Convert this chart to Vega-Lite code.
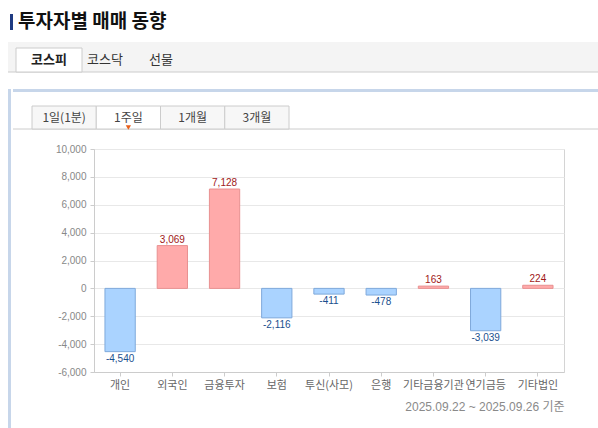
{
  "$schema": "https://vega.github.io/schema/vega-lite/v6.json",
  "padding": {"left": 0, "top": 13, "right": 0, "bottom": 0},
  "background": "white",
  "spacing": 10,
  "config": {
    "view": {"stroke": null},
    "font": "Noto Sans CJK KR",
    "locale": {"number": {"decimal": ".", "thousands": ",", "grouping": [3], "currency": ["", ""], "minus": "-"}}
  },
  "vconcat": [
    {
      "spacing": 0,
      "hconcat": [
        {
          "width": 10, "height": 16,
          "data": {"values": [{}]},
          "mark": {"type": "text"},
          "encoding": {"text": {"value": ""}}
        },
        {
          "width": 3, "height": 16,
          "view": {"fill": "#1f3b82", "stroke": null},
          "data": {"values": [{}]},
          "mark": {"type": "text"},
          "encoding": {"text": {"value": ""}}
        },
        {
          "width": 300, "height": 16,
          "data": {"values": [{"heading": "투자자별 매매 동향"}]},
          "mark": {"type": "text", "align": "left", "baseline": "middle", "fontSize": 19, "fontWeight": "bold", "color": "#111111", "dx": 5},
          "encoding": {
            "x": {"datum": 0, "type": "quantitative", "scale": {"domain": [0, 1]}, "axis": null},
            "y": {"datum": 0.5, "type": "quantitative", "scale": {"domain": [0, 1]}, "axis": null},
            "text": {"field": "heading"}
          }
        }
      ]
    },
    {
      "spacing": 16,
      "vconcat": [
        {
          "spacing": 0,
          "hconcat": [
            {
              "width": 7, "height": 30,
              "data": {"values": [{}]},
              "mark": {"type": "text"},
              "encoding": {"text": {"value": ""}}
            },
            {
              "width": 591,
              "height": 30,
              "view": {"fill": "#f4f4f4", "stroke": null},
              "data": {"values": [
                {"tab": "코스피", "selected": true},
                {"tab": "코스닥", "selected": false},
                {"tab": "선물", "selected": false}
              ]},
              "layer": [
                {
                  "data": {"values": [{}]},
                  "mark": {"type": "rule", "color": "#cccccc"},
                  "encoding": {"y": {"datum": 0, "type": "quantitative", "scale": {"domain": [0, 1]}, "axis": null}}
                },
                {
                  "transform": [{"filter": "datum.selected"}],
                  "mark": {"type": "rect", "fill": "white", "stroke": "#cccccc", "width": 66},
                  "encoding": {
                    "x": {"field": "tab", "type": "nominal", "sort": null, "scale": {"domain": ["코스피", "코스닥", "선물"], "range": [13, 181], "paddingInner": 0, "paddingOuter": 0}, "axis": null},
                    "y": {"datum": 0.8, "type": "quantitative", "scale": {"domain": [0, 1]}, "axis": null},
                    "y2": {"datum": 0}
                  }
                },
                {
                  "transform": [{"filter": "datum.selected"}],
                  "mark": {"type": "text", "fontSize": 13, "fontWeight": "bold", "color": "#222222"},
                  "encoding": {
                    "x": {"field": "tab", "type": "nominal", "sort": null, "axis": null},
                    "y": {"datum": 0.4, "type": "quantitative", "axis": null},
                    "text": {"field": "tab"}
                  }
                },
                {
                  "transform": [{"filter": "!datum.selected"}],
                  "mark": {"type": "text", "fontSize": 13, "color": "#333333"},
                  "encoding": {
                    "x": {"field": "tab", "type": "nominal", "sort": null, "axis": null},
                    "y": {"datum": 0.4, "type": "quantitative", "axis": null},
                    "text": {"field": "tab"}
                  }
                }
              ]
            }
          ]
        },
        {
          "spacing": 0,
          "hconcat": [
            {
              "width": 8,
              "height": 340,
              "data": {"values": [{}]},
              "mark": {"type": "text"},
              "encoding": {"text": {"value": ""}}
            },
            {
              "width": 3,
              "height": 340,
              "view": {"fill": "#c7d6ea", "stroke": null},
              "data": {"values": [{}]},
              "mark": {"type": "text"},
              "encoding": {"text": {"value": ""}}
            },
            {
              "spacing": 0,
              "vconcat": [
                {
                  "width": 587,
                  "height": 54,
                  "data": {"values": [
                    {"tab": "1일(1분)", "selected": false},
                    {"tab": "1주일", "selected": true},
                    {"tab": "1개월", "selected": false},
                    {"tab": "3개월", "selected": false}
                  ]},
                  "layer": [
                    {
                      "data": {"values": [{}]},
                      "mark": {"type": "rule", "color": "#c7d6ea", "strokeWidth": 3},
                      "encoding": {"y": {"datum": 0.972, "type": "quantitative", "scale": {"domain": [0, 1]}, "axis": null}}
                    },
                    {
                      "data": {"values": [{}]},
                      "mark": {"type": "rule", "color": "#cccccc"},
                      "encoding": {"y": {"datum": 0.259, "type": "quantitative", "axis": null}}
                    },
                    {
                      "mark": {"type": "rect", "stroke": "#cccccc"},
                      "encoding": {
                        "x": {"field": "tab", "type": "nominal", "sort": null, "scale": {"domain": ["1일(1분)", "1주일", "1개월", "3개월"], "range": [19, 276], "paddingInner": 0, "paddingOuter": 0}, "axis": null},
                        "y": {"datum": 0.685, "type": "quantitative", "axis": null},
                        "y2": {"datum": 0.259},
                        "fill": {"condition": {"test": "datum.selected", "value": "#ffffff"}, "value": "#f7f7f7"}
                      }
                    },
                    {
                      "mark": {"type": "text", "fontSize": 12, "color": "#444444"},
                      "encoding": {
                        "x": {"field": "tab", "type": "nominal", "sort": null, "axis": null},
                        "y": {"datum": 0.472, "type": "quantitative", "axis": null},
                        "text": {"field": "tab"}
                      }
                    },
                    {
                      "transform": [{"filter": "datum.selected"}],
                      "mark": {"type": "point", "shape": "triangle-down", "filled": true, "color": "#e8601c", "size": 28, "opacity": 1},
                      "encoding": {
                        "x": {"field": "tab", "type": "nominal", "sort": null, "axis": null},
                        "y": {"datum": 0.287, "type": "quantitative", "axis": null}
                      }
                    }
                  ]
                },
                {
                  "spacing": 0,
                  "hconcat": [
                    {
                      "width": 1,
                      "height": 1,
                      "data": {"values": [{}]},
                      "mark": {"type": "text"},
                      "encoding": {"text": {"value": ""}}
                    },
                    {
                      "width": 470,
                      "height": 223,
                      "view": {"stroke": "#d4d4d4"},
                      "data": {"values": [
                        {"investor": "개인", "value": -4540},
                        {"investor": "외국인", "value": 3069},
                        {"investor": "금융투자", "value": 7128},
                        {"investor": "보험", "value": -2116},
                        {"investor": "투신(사모)", "value": -411},
                        {"investor": "은행", "value": -478},
                        {"investor": "기타금융기관", "value": 163},
                        {"investor": "연기금등", "value": -3039},
                        {"investor": "기타법인", "value": 224}
                      ]},
                      "encoding": {
                        "x": {
                          "field": "investor", "type": "nominal", "sort": null,
                          "scale": {"paddingInner": 0.42, "paddingOuter": 0.21},
                          "axis": {
                            "title": "2025.09.22 ~ 2025.09.26 기준",
                            "titleAnchor": "end", "titleColor": "#8a8a8a", "titleFontSize": 12, "titleFontWeight": "normal",
                            "titleFont": "Liberation Sans, Noto Sans CJK KR", "titlePadding": 11,
                            "labelAngle": 0, "labelFontSize": 11, "labelColor": "#666666", "labelPadding": 3,
                            "tickSize": 4, "tickColor": "#cccccc", "domainColor": "#cccccc", "grid": false
                          }
                        }
                      },
                      "layer": [
                        {
                          "mark": {"type": "bar", "strokeWidth": 1},
                          "encoding": {
                            "y": {
                              "field": "value", "type": "quantitative",
                              "scale": {"domain": [-6000, 10000], "nice": false},
                              "axis": {
                                "title": null, "values": [-6000, -4000, -2000, 0, 2000, 4000, 6000, 8000, 10000], "tickCount": 20, "format": ",d",
                                "labelFont": "Liberation Sans", "labelFontSize": 10, "labelColor": "#888888", "labelPadding": 4,
                                "labelOverlap": false,
                                "tickSize": 4, "tickColor": "#cccccc", "domainColor": "#cccccc", "gridColor": "#e8e8e8",
                                "minExtent": 79
                              }
                            },
                            "fill": {"condition": {"test": "datum.value < 0", "value": "#aad3ff"}, "value": "#ffaaaa"},
                            "stroke": {"condition": {"test": "datum.value < 0", "value": "#7fa9db"}, "value": "#e89090"}
                          }
                        },
                        {
                          "transform": [{"filter": "datum.value >= 0"}],
                          "mark": {"type": "text", "baseline": "bottom", "dy": -1, "font": "Liberation Sans", "fontSize": 10, "color": "#a01818"},
                          "encoding": {
                            "y": {"field": "value", "type": "quantitative"},
                            "text": {"field": "value", "type": "quantitative", "format": ",d"}
                          }
                        },
                        {
                          "transform": [{"filter": "datum.value < 0"}],
                          "mark": {"type": "text", "baseline": "top", "dy": 2, "font": "Liberation Sans", "fontSize": 10, "color": "#1a4f8e"},
                          "encoding": {
                            "y": {"field": "value", "type": "quantitative"},
                            "text": {"field": "value", "type": "quantitative", "format": ",d"}
                          }
                        }
                      ]
                    }
                  ]
                }
              ]
            }
          ]
        }
      ]
    }
  ]
}
